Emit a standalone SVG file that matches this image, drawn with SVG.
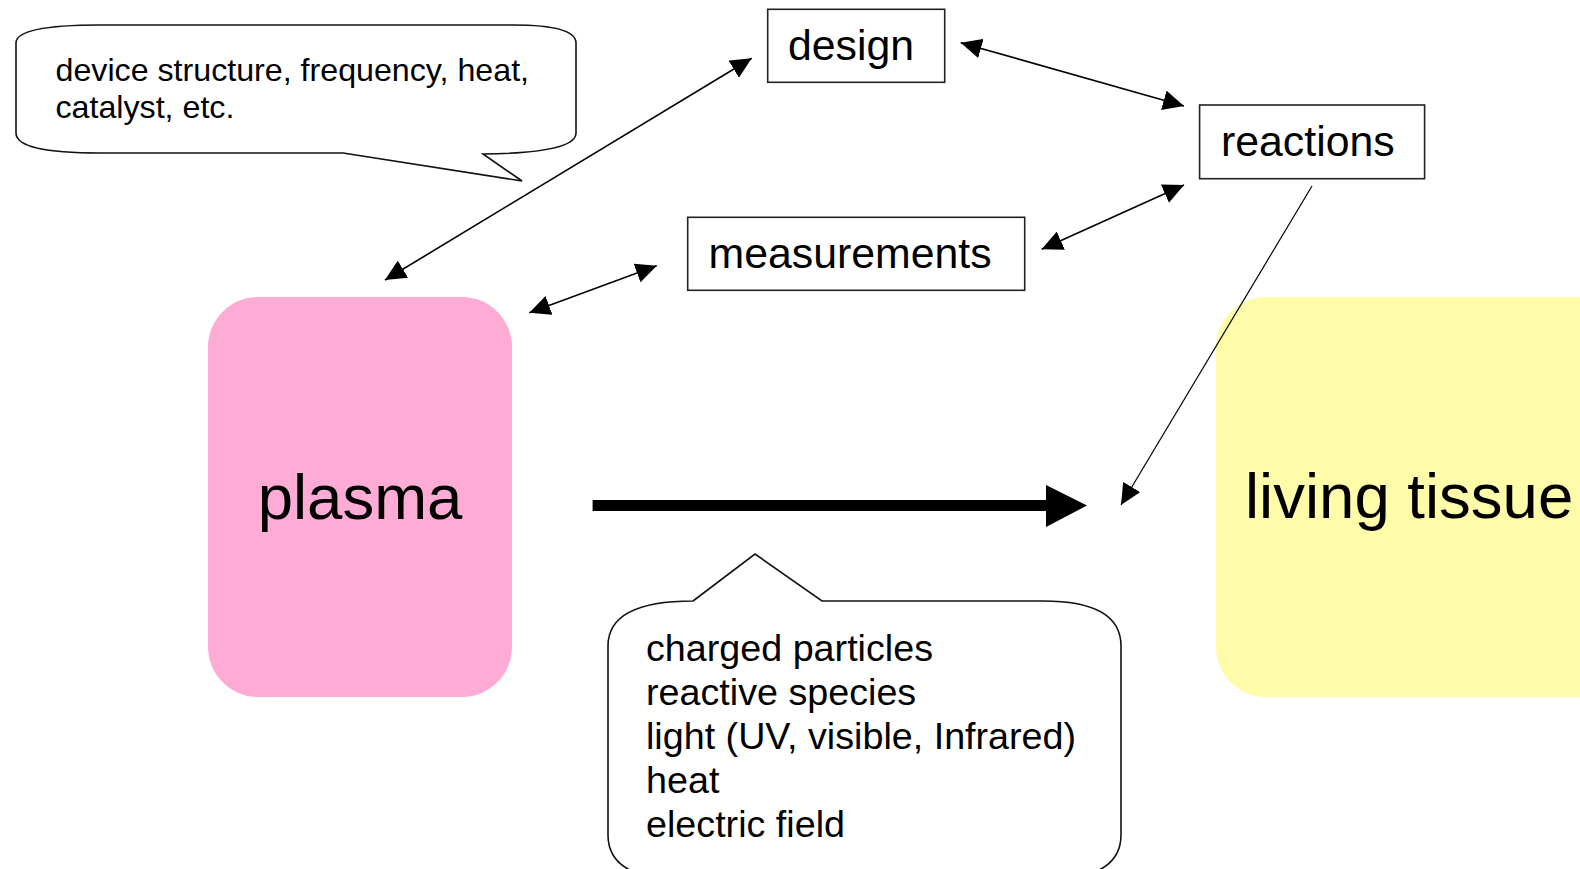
<svg xmlns="http://www.w3.org/2000/svg" width="1580" height="869" viewBox="0 0 1580 869">
<style>
text{font-family:"Liberation Sans",Arial,sans-serif;fill:#000}
.box{fill:#fff;stroke:#222;stroke-width:1.6}
.callout{fill:#fff;stroke:#111;stroke-width:1.6;stroke-linejoin:miter}
.conn{stroke:#000;stroke-width:1.6;fill:none}
.thin{stroke:#000;stroke-width:1.2;fill:none}
</style>
<defs>
<marker id="ah" markerUnits="userSpaceOnUse" markerWidth="22" markerHeight="20" refX="21" refY="10" orient="auto-start-reverse" viewBox="0 0 22 20">
<path d="M0,0 L21,10 L0,20 Z" fill="#000"/>
</marker>
</defs>
<rect width="1580" height="869" fill="#fff"/>

<g id="plasma">
<rect x="208" y="297" width="304" height="400" rx="50" ry="50" fill="#FEACD5"/>
<text x="360" y="519" font-size="63.5" text-anchor="middle">plasma</text>
</g>

<g id="living-tissue">
<rect x="1216" y="297" width="420" height="400" rx="50" ry="50" fill="#FEFBA9"/>
<text x="1245" y="518" font-size="63.5">living tissue</text>
</g>

<g id="design">
<rect class="box" x="767.7" y="9.3" width="177" height="73"/>
<text x="788" y="60" font-size="42.8">design</text>
</g>

<g id="measurements">
<rect class="box" x="687.7" y="217.3" width="337" height="73"/>
<text x="708.5" y="267.7" font-size="42.8">measurements</text>
</g>

<g id="reactions">
<rect class="box" x="1199.6" y="105" width="225" height="73.7"/>
<text x="1221" y="156" font-size="42.8">reactions</text>
</g>

<g id="callout-design">
<path class="callout" d="M100,25 L513,25 Q576,25 576,43 L576,133 Q576,153 483,154 L522,181 L343,153 L100,153 Q16,153 16,133 L16,43 Q16,25 100,25 Z"/>
<text font-size="32.2"><tspan x="55.5" y="81">device structure, frequency, heat,</tspan><tspan x="55.5" y="118">catalyst, etc.</tspan></text>
</g>

<g id="callout-effects">
<path class="callout" d="M693,601 L755,554 L822,601 L1043,601 Q1121,601 1121,646 L1121,835 Q1121,880 1043,880 L686,880 Q608,880 608,835 L608,646 Q608,601 693,601 Z"/>
<text font-size="37.7"><tspan x="646" y="661">charged particles</tspan><tspan x="646" y="705">reactive species</tspan><tspan x="646" y="749">light (UV, visible, Infrared)</tspan><tspan x="646" y="793">heat</tspan><tspan x="646" y="837">electric field</tspan></text>
</g>

<g id="connectors">
<line class="conn" x1="385" y1="280" x2="751.7" y2="58.3" marker-start="url(#ah)" marker-end="url(#ah)"/>
<line class="conn" x1="960.7" y1="42.7" x2="1184" y2="106" marker-start="url(#ah)" marker-end="url(#ah)"/>
<line class="conn" x1="529.3" y1="312.7" x2="656.7" y2="265.7" marker-start="url(#ah)" marker-end="url(#ah)"/>
<line class="conn" x1="1041.7" y1="249.3" x2="1184" y2="185" marker-start="url(#ah)" marker-end="url(#ah)"/>
<line class="thin" x1="1312" y1="186" x2="1121" y2="505" marker-end="url(#ah)"/>
<path d="M592.6,500 L1046,500 L1046,485 L1087,505.5 L1046,527 L1046,511 L592.6,511 Z" fill="#000"/>
</g>
</svg>
